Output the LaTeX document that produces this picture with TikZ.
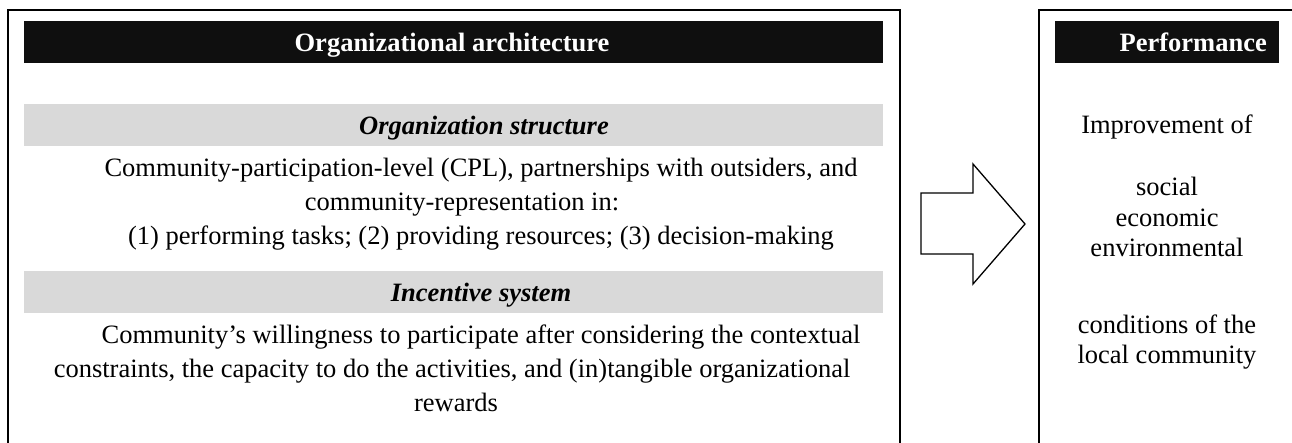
\documentclass[tikz,border=0pt]{standalone}
\usepackage{fontspec}
\setmainfont{Liberation Serif}
\definecolor{barblack}{HTML}{0F0F0F}
\definecolor{bandgray}{HTML}{D9D9D9}
\begin{document}
\begin{tikzpicture}[x=1pt,y=-1pt,
  txt/.style={font=\fontsize{26.5}{30}\selectfont, inner sep=0pt, anchor=base},
  hd/.style={font=\fontsize{26.5}{30}\selectfont\bfseries, inner sep=0pt, anchor=base, text=white},
  sub/.style={font=\fontsize{26.5}{30}\selectfont\bfseries\itshape, inner sep=0pt, anchor=base},
  frame/.style={line width=1.5pt, draw=black},
  bar/.style={fill=barblack, draw=none},
  band/.style={fill=bandgray, draw=none},
  blockarrow/.style={draw=black, line width=1.3pt, fill=white, line join=miter}]
\useasboundingbox (0,0) rectangle (1292,442);
% left frame
\draw[frame] (8,470) -- (8,10) -- (900,10) -- (900,470);
\fill[bar] (24,21) rectangle (883,63);
\node[hd] (lhead) at (452,51) {Organizational architecture};
\fill[band] (24,104) rectangle (883,146);
\node[sub] (os) at (484,134) {Organization structure};
\node[txt] (os1) at (481,176) {Community-participation-level (CPL), partnerships with outsiders, and};
\node[txt] (os2) at (462,210) {community-representation in:};
\node[txt] (os3) at (481,244) {(1) performing tasks; (2) providing resources; (3) decision-making};
\fill[band] (24,271) rectangle (883,313);
\node[sub] (is) at (481,301) {Incentive system};
\node[txt] (is1) at (481,343) {Community’s willingness to participate after considering the contextual};
\node[txt] (is2) at (452,377) {constraints, the capacity to do the activities, and (in)tangible organizational};
\node[txt] (is3) at (456,411) {rewards};
% arrow
\draw[blockarrow] (921,193) -- (973,193) -- (973,164) -- (1025,224) -- (973,284) -- (973,254) -- (921,254) -- cycle;
% right frame
\draw[frame] (1039,470) -- (1039,10) -- (1300,10);
\fill[bar] (1055,21) rectangle (1279,63);
\node[hd, anchor=base east] (rhead) at (1267,51) {Performance};
\node[txt] (p1) at (1167,133) {Improvement of};
\node[txt] (p2) at (1167,195) {social};
\node[txt] (p3) at (1167,226) {economic};
\node[txt] (p4) at (1167,256) {environmental};
\node[txt] (p5) at (1167,333) {conditions of the};
\node[txt] (p6) at (1167,363) {local community};
\end{tikzpicture}
\end{document}
